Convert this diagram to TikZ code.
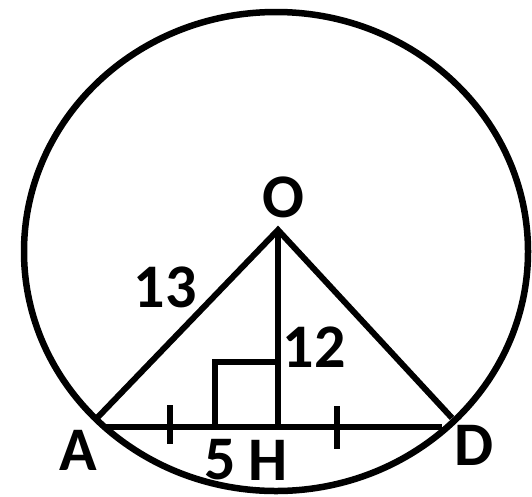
\documentclass[tikz,border=0pt]{standalone}
\usepackage{fontspec}
\setmainfont{Carlito}
\begin{document}
\begin{tikzpicture}[x=1pt,y=-1pt,
  geo/.style={line width=6pt},
  lbl/.style={inner sep=0pt,font=\bfseries\fontsize{62}{70}\selectfont}]
\useasboundingbox (0,0) rectangle (532,496);
\coordinate (C) at (276,251.5);
\coordinate (O) at (278,230);
\coordinate (A) at (97,418);
\coordinate (D) at (452,418);
\coordinate (A2) at (105,427);
\coordinate (D2) at (442,427);
\coordinate (H) at (278,427);
\coordinate (Q1) at (215,427);
\coordinate (Q2) at (215,362);
\coordinate (Q3) at (278,362);
\coordinate (T1a) at (170,405);
\coordinate (T1b) at (170,444);
\coordinate (T2a) at (337,406);
\coordinate (T2b) at (337,449);
\draw[geo,line width=6.5pt] (C) ellipse [x radius=252pt, y radius=239.5pt];
\draw[geo] (A) -- (O) -- (D);
\draw[geo] (O) -- (H);
\draw[geo] (A2) -- (D2);
\draw[geo] (Q1) -- (Q2) -- (Q3);
\draw[geo] (T1a) -- (T1b);
\draw[geo] (T2a) -- (T2b);
\node[lbl] (lO) at (283,197) {O};
\node[lbl] (l13) at (165,287) {13};
\node[lbl] (l12) at (314,347) {12};
\node[lbl] (lA) at (78,450) {A};
\node[lbl] (l5) at (220,460) {5};
\node[lbl] (lH) at (268,460) {H};
\node[lbl] (lD) at (474,445) {D};
\end{tikzpicture}
\end{document}
